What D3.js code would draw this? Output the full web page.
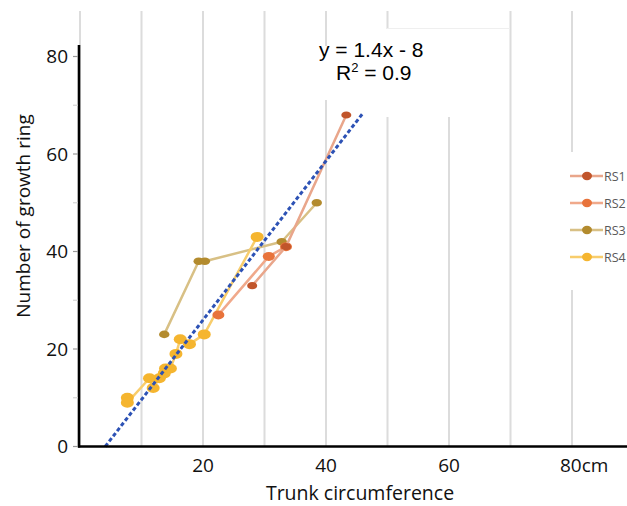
<!DOCTYPE html>
<html>
<head>
<meta charset="utf-8">
<script src="https://cdn.jsdelivr.net/npm/d3@7/dist/d3.min.js"></script>
<style>
  html, body { margin: 0; padding: 0; background: #fff; }
  svg { display: block; }
</style>
</head>
<body>
<svg id="chart" width="627" height="506"></svg>
<script>
// ---- data ----
const seriesNames = ["RS1", "RS2", "RS3", "RS4"];
const rs1 = [[28, 33], [33.5, 41], [43.3, 68]];
const rs2 = [[22.5, 27], [30.7, 39], [33.5, 41]];
const rs3 = [[13.7, 23], [19.3, 38], [20.3, 38], [32.8, 42], [38.5, 50]];
const rs4 = [[7.7, 10], [7.7, 9], [11.3, 14], [11.9, 12], [12.9, 14], [13.7, 15],
             [13.9, 16], [14.7, 16], [15.6, 19], [16.3, 22], [17.8, 21], [20.2, 23], [28.8, 43]];
const trendLine = [[4.1, 0], [45.9, 68.2]];
const xTicks = [20, 40, 60, 80];
const xTickLabels = ["20", "40", "60", "80cm"];
const yTicks = [0, 20, 40, 60, 80];
const yMinorTicks = [10, 30, 50, 70];
const gridValues = [0, 10, 20, 30, 40, 50, 60, 70, 80];
const equationText = "y = 1.4x - 8";
const xTitle = "Trunk circumference";
const yTitle = "Number of growth ring";

// ---- styles ----
const styles = {
  RS1: { marker: "#c1552b", line: "#e9a68b", rx: 5, ry: 3.6 },
  RS2: { marker: "#e8733b", line: "#f0a98b", rx: 6, ry: 4.5 },
  RS3: { marker: "#b38b2e", line: "#d8c085", rx: 5.2, ry: 3.8 },
  RS4: { marker: "#f5b52f", line: "#f8cd6c", rx: 6.5, ry: 5 }
};
const seriesData = { RS1: rs1, RS2: rs2, RS3: rs3, RS4: rs4 };

const svg = d3.select("#chart");
const x = d3.scaleLinear().domain([0, 80]).range([80, 572]);
const y = d3.scaleLinear().domain([0, 80]).range([446.5, 56.5]);
const font = "'Open Sans', 'Noto Sans', sans-serif";

// gridlines
svg.append("g").selectAll("line").data(gridValues).join("line")
  .attr("x1", d => x(d)).attr("x2", d => x(d))
  .attr("y1", 11).attr("y2", y(0))
  .attr("stroke", "#dcdcdc").attr("stroke-width", 2);

// white label areas covering gridlines
svg.append("rect").attr("x", 384).attr("y", 29).attr("width", 124).attr("height", 88).attr("fill", "#fff");
svg.append("rect").attr("x", 390).attr("y", 0).attr("width", 118).attr("height", 29).attr("fill", "#fff");
svg.append("line").attr("x1", 387).attr("x2", 510).attr("y1", 28.5).attr("y2", 28.5)
  .attr("stroke", "#efefef").attr("stroke-width", 1);
svg.append("rect").attr("x", 316).attr("y", 46).attr("width", 70).attr("height", 54).attr("fill", "#fff");
svg.append("rect").attr("x", 560).attr("y", 152).attr("width", 67).attr("height", 138).attr("fill", "#fff");

// series
const lineGen = d3.line().x(d => x(d[0])).y(d => y(d[1]));
const drawOrder = ["RS3", "RS4", "RS2", "RS1"];
drawOrder.forEach(name => {
  const st = styles[name];
  const g = svg.append("g");
  g.append("path").datum(seriesData[name]).attr("d", lineGen)
    .attr("fill", "none").attr("stroke", st.line).attr("stroke-width", 2.5)
    .attr("stroke-linejoin", "round");
  g.selectAll("ellipse").data(seriesData[name]).join("ellipse")
    .attr("cx", d => x(d[0])).attr("cy", d => y(d[1]))
    .attr("rx", st.rx).attr("ry", st.ry).attr("fill", st.marker);
});

// trend line
svg.append("path").datum(trendLine).attr("d", lineGen)
  .attr("fill", "none").attr("stroke", "#2d52b5").attr("stroke-width", 3)
  .attr("stroke-dasharray", "4,2.5");

// axes
svg.append("line").attr("x1", 79).attr("x2", 79).attr("y1", 45).attr("y2", y(0) + 1)
  .attr("stroke", "#000").attr("stroke-width", 2.6);
svg.append("line").attr("x1", 78).attr("x2", 627).attr("y1", y(0)).attr("y2", y(0))
  .attr("stroke", "#000").attr("stroke-width", 2.6);

// y ticks
svg.append("g").selectAll("line").data(yTicks).join("line")
  .attr("x1", 73).attr("x2", 78).attr("y1", d => y(d)).attr("y2", d => y(d))
  .attr("stroke", "#999").attr("stroke-width", 1.2);
svg.append("g").selectAll("line").data(yMinorTicks).join("line")
  .attr("x1", 73).attr("x2", 78).attr("y1", d => y(d)).attr("y2", d => y(d))
  .attr("stroke", "#d4d4d4").attr("stroke-width", 1.2);
svg.append("g").selectAll("text").data(yTicks).join("text")
  .attr("x", 68).attr("y", d => y(d)).attr("dy", "0.36em")
  .attr("text-anchor", "end").attr("font-family", font).attr("font-size", 19)
  .attr("fill", "#111").text(d => d);

// x tick labels
svg.append("g").selectAll("text").data(xTicks).join("text")
  .attr("x", (d, i) => i === xTicks.length - 1 ? x(d) - 12 : x(d))
  .attr("y", 472)
  .attr("text-anchor", (d, i) => i === xTicks.length - 1 ? "start" : "middle")
  .attr("font-family", font).attr("font-size", 19).attr("fill", "#111")
  .text((d, i) => xTickLabels[i]);

// axis titles
svg.append("text").attr("x", 360).attr("y", 500).attr("text-anchor", "middle")
  .attr("font-family", font).attr("font-size", 19.5).attr("fill", "#111").text(xTitle);
svg.append("text").attr("transform", "translate(30,216) rotate(-90)")
  .attr("text-anchor", "middle").attr("font-family", font).attr("font-size", 19)
  .attr("fill", "#111").text(yTitle);

// equation
const eqFont = "'Liberation Sans', Arial, sans-serif";
svg.append("text").attr("x", 319).attr("y", 57).attr("font-family", eqFont)
  .attr("font-size", 21).attr("fill", "#000").text(equationText);
const r2 = svg.append("text").attr("x", 336).attr("y", 80).attr("font-family", eqFont)
  .attr("font-size", 21).attr("fill", "#000");
r2.append("tspan").text("R");
r2.append("tspan").attr("font-size", 13).attr("dy", -8).text("2");
r2.append("tspan").attr("dy", 8).text(" = 0.9");

// legend
const legendY = d3.scalePoint().domain(seriesNames).range([176, 257]);
const lg = svg.append("g");
seriesNames.forEach(name => {
  const st = styles[name];
  const yy = legendY(name);
  lg.append("line").attr("x1", 570).attr("x2", 603).attr("y1", yy).attr("y2", yy)
    .attr("stroke", st.line).attr("stroke-width", 2.5);
  lg.append("ellipse").attr("cx", 587).attr("cy", yy).attr("rx", 5).attr("ry", 4.2)
    .attr("fill", st.marker);
  lg.append("text").attr("x", 604).attr("y", yy).attr("dy", "0.36em")
    .attr("font-family", font).attr("font-size", 12.5).attr("fill", "#595959").text(name);
});
</script>
</body>
</html>
